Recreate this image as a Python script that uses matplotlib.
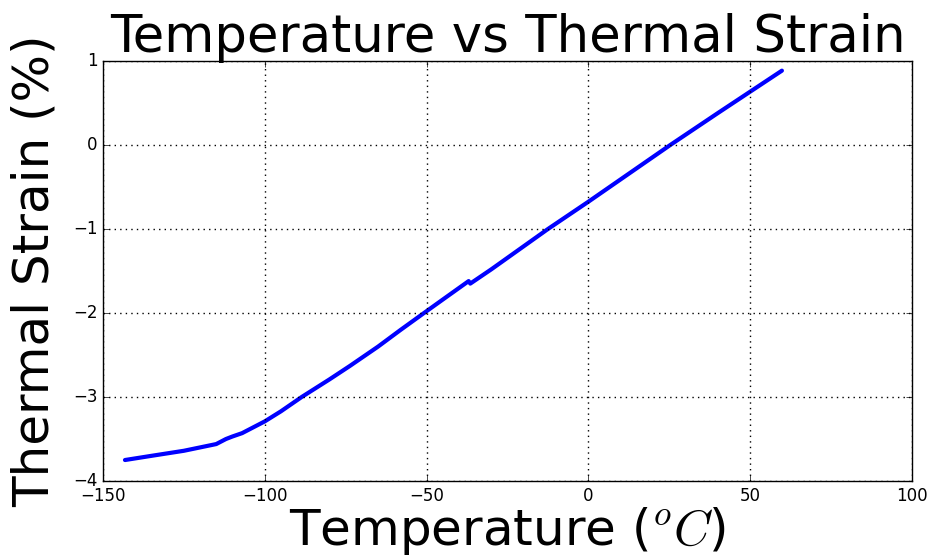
import matplotlib
matplotlib.use("Agg")
import matplotlib.pyplot as plt

# temperature (deg C) and thermal strain (%)
temperature = [-143.2, -135, -125, -115, -112, -110, -107, -104, -100, -95,
               -88.6, -80, -73.7, -65, -58, -50.8, -45, -37, -36.5, -30,
               -12.5, 0, 25.3, 40, 50, 59.8]
strain = [-3.75, -3.70, -3.64, -3.56, -3.50, -3.47, -3.43, -3.37, -3.29, -3.17,
          -3.00, -2.79, -2.63, -2.40, -2.20, -2.00, -1.84, -1.62, -1.65, -1.48,
          -1.00, -0.675, 0.0, 0.38, 0.635, 0.885]

plt.style.use('classic')
fig = plt.figure(figsize=(9.31, 5.57), dpi=100, facecolor='white')
ax = fig.add_axes([0.1106, 0.1364, 0.869, 0.7541])

ax.plot(temperature, strain, color='#0000ff', linewidth=3,
        solid_capstyle='round', solid_joinstyle='round')

ax.set_xlim(-150, 100)
ax.set_ylim(-4, 1)
ax.grid(True, color='k', linestyle=':', linewidth=1)
ax.tick_params(labelsize=12)

ax.set_xlabel('Temperature ($^oC$)', fontsize=36, labelpad=0)
ax.set_ylabel('Thermal Strain (%)', fontsize=36, labelpad=10)
ax.set_title('Temperature vs Thermal Strain', fontsize=37, pad=6.5,
             verticalalignment='baseline')

fig.savefig('out.png', dpi=100, facecolor='white')
